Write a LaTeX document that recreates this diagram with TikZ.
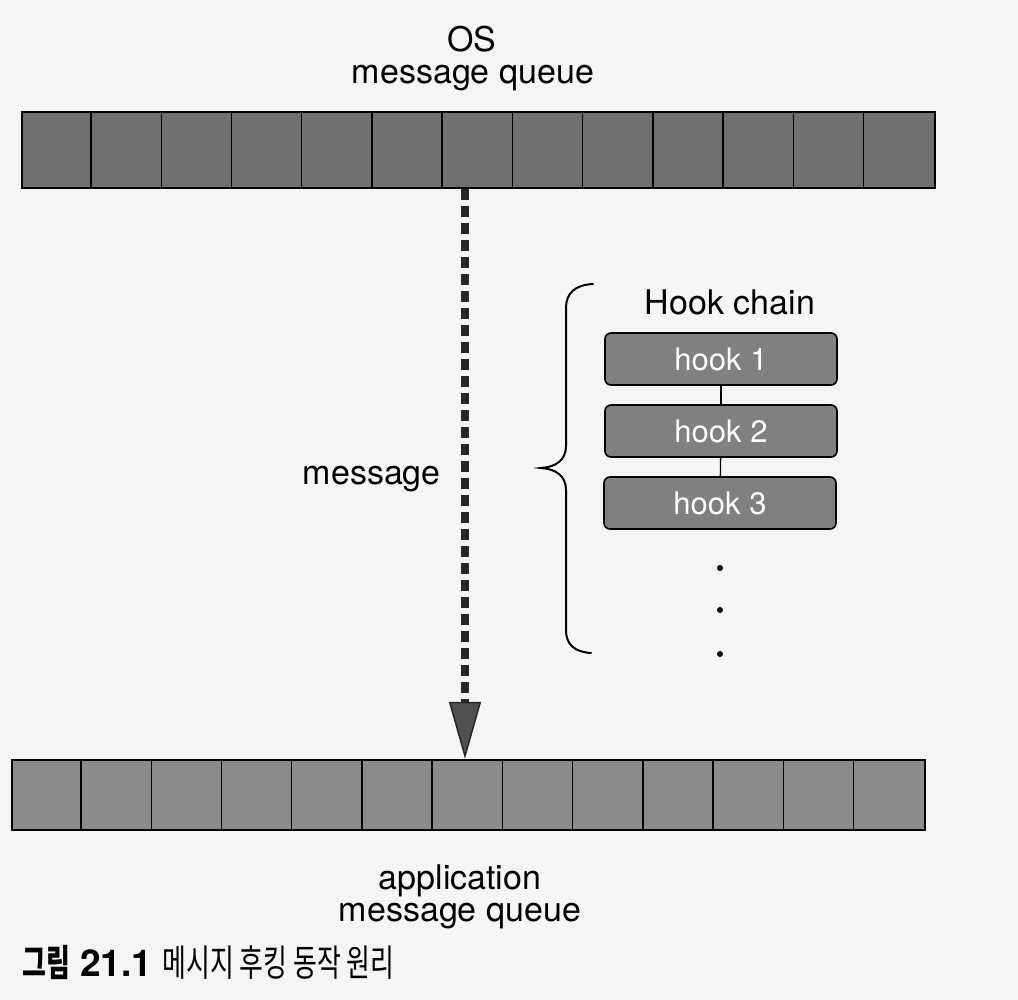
\documentclass[tikz,border=0pt]{standalone}
\usepackage{fontspec}
\setmainfont{TeX Gyre Heros}
\newfontfamily\cjk[FakeStretch=0.7]{Noto Sans CJK KR}
\usetikzlibrary{arrows.meta,calc}

\definecolor{paper}{RGB}{245,245,243}
\definecolor{qtop}{RGB}{112,112,110}
\definecolor{qbot}{RGB}{140,140,138}
\definecolor{hookfill}{RGB}{128,128,126}
\definecolor{tipfill}{RGB}{80,80,80}

\tikzset{
  queue/.style={draw=black, line width=2.4pt, minimum width=913pt,
    minimum height=#1, inner sep=0pt},
  cellline/.style={draw=black, line width=1.4pt},
  hookbox/.style={draw=black, line width=1.6pt, fill=hookfill,
    rounded corners=6pt, minimum width=232pt, minimum height=52pt,
    text=white, font=\fontsize{31}{34}\selectfont},
  lbl/.style={font=\fontsize{34}{36}\selectfont, inner sep=0pt},
  chainlink/.style={draw=black, line width=1.3pt},
  dot/.style={circle, fill=black, inner sep=0pt, minimum size=6pt},
  flow/.style={draw=black!85, line width=8pt, dash pattern=on 11pt off 6pt,
    -{Triangle[length=57pt,width=32pt,line width=1.5pt,fill=tipfill]}},
  bracestyle/.style={draw=black, line width=2pt, line cap=round}
}

\begin{document}
\begin{tikzpicture}[x=1pt,y=-1pt]
  \fill[paper] (0,0) rectangle (1018,1000);
  \useasboundingbox (0,0) rectangle (1018,1000);

  % OS message queue
  \node[lbl, anchor=base] (ostitle) at (472,52) {OS};
  \node[lbl, anchor=base] (osname) at (473,84) {message queue};
  \node[queue=76pt, fill=qtop] (osq) at (478.5,150) {};
  \foreach \i in {1,...,12}
    \draw[cellline] ($(osq.north west)+(\i*70.23,0)$) -- ($(osq.south west)+(\i*70.23,0)$);

  % application message queue
  \node[queue=70pt, fill=qbot] (appq) at (468.5,795) {};
  \foreach \i in {1,...,12}
    \draw[cellline] ($(appq.north west)+(\i*70.23,0)$) -- ($(appq.south west)+(\i*70.23,0)$);
  \node[lbl, anchor=base] (appname) at (460,889) {application};
  \node[lbl, anchor=base] (appname2) at (460,921) {message queue};

  % message flow
  \coordinate (shaft) at (465,0);
  \draw[flow] (osq.south -| shaft) -- (appq.north -| shaft);
  \node[lbl, anchor=base east] (msg) at (441,484) {message};

  % hook chain
  \node[lbl, anchor=base] (chain) at (730,315) {Hook chain};
  \node[hookbox] (h1) at (721,359) {hook 1};
  \node[hookbox] (h2) at (721,431) {hook 2};
  \node[hookbox] (h3) at (720,503) {hook 3};
  \draw[chainlink] (h1) -- (h2);
  \draw[chainlink] (h2) -- (h3);
  \node[dot] (d1) at (720,568) {};
  \node[dot] (d2) at (720,610) {};
  \node[dot] (d3) at (720,654) {};

  % brace grouping the chain
  \draw[bracestyle] (593,284) .. controls (575,285) and (566,293) .. (566,308)
    -- (566,446) .. controls (566,460) and (556,467) .. (541,468)
    .. controls (556,469) and (566,476) .. (566,490)
    -- (566,630) .. controls (566,645) and (575,652) .. (591,653);

  % caption
  \node[anchor=base west, inner sep=0pt, font=\fontsize{37}{40}\selectfont] (caption) at (22,976)
    {{\cjk\bfseries 그림} \textbf{21.1} {\cjk 메시지 후킹 동작 원리}};
\end{tikzpicture}
\end{document}
